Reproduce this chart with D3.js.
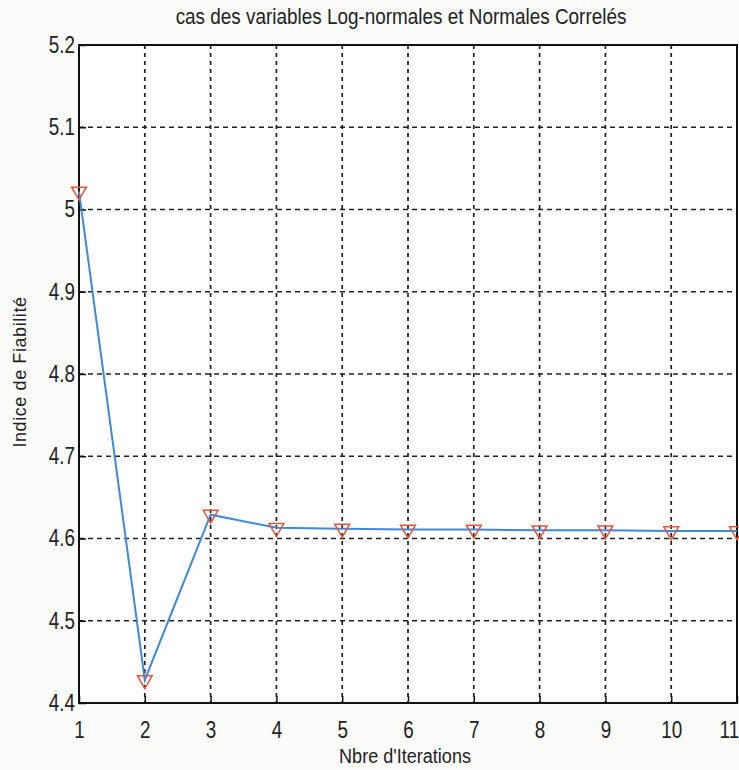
<!DOCTYPE html>
<html>
<head>
<meta charset="utf-8">
<script src="https://cdn.jsdelivr.net/npm/d3@7"></script>
<style>
body { margin: 0; background: #fbfbfa; }
svg text { font-family: "Liberation Sans", Arial, sans-serif; fill: #222; }
</style>
</head>
<body>
<svg id="vis" width="739" height="770"></svg>
<script>
var iterations = [1, 2, 3, 4, 5, 6, 7, 8, 9, 10, 11];
var beta = [5.022, 4.428, 4.629, 4.613, 4.612, 4.611, 4.611, 4.610, 4.610, 4.609, 4.609];
var yTicks = [4.4, 4.5, 4.6, 4.7, 4.8, 4.9, 5, 5.1, 5.2];
var titleText = "cas des variables Log-normales et Normales Correlés";
var xLabel = "Nbre d'Iterations";
var yLabel = "Indice de Fiabilité";

var svg = d3.select('#vis');
var margin = {top: 45, right: 2, bottom: 67, left: 79};
var width = 739, height = 770;

var xScale = d3.scaleLinear()
    .domain([1, 11])
    .range([margin.left, width - margin.right]);

var yScale = d3.scaleLinear()
    .domain([4.4, 5.2])
    .range([height - margin.bottom, margin.top]);

// fond du cadre
svg.append("rect")
    .attr("x", xScale(1))
    .attr("y", yScale(5.2))
    .attr("width", xScale(11) - xScale(1))
    .attr("height", yScale(4.4) - yScale(5.2))
    .style("fill", "white");

// grille pointillée
svg.selectAll("line.vgrid")
    .data(iterations.slice(1, -1))
    .enter()
    .append("line")
    .attr("class", "vgrid")
    .attr("x1", function(d){ return xScale(d); })
    .attr("x2", function(d){ return xScale(d); })
    .attr("y1", yScale(5.2))
    .attr("y2", yScale(4.4))
    .style("stroke", "#222")
    .style("stroke-width", "1.7")
    .style("stroke-dasharray", "4,4");

svg.selectAll("line.hgrid")
    .data(yTicks.slice(1, -1))
    .enter()
    .append("line")
    .attr("class", "hgrid")
    .attr("x1", xScale(1))
    .attr("x2", xScale(11))
    .attr("y1", function(d){ return yScale(d); })
    .attr("y2", function(d){ return yScale(d); })
    .style("stroke", "#222")
    .style("stroke-width", "1.7")
    .style("stroke-dasharray", "5,4");

// axes (ticks vers l'intérieur)
var xAxis = d3.axisBottom(xScale)
    .tickValues(iterations)
    .tickSize(-7)
    .tickPadding(20)
    .tickFormat(d3.format("d"));

var yAxis = d3.axisLeft(yScale)
    .tickValues(yTicks)
    .tickSize(-7)
    .tickPadding(5)
    .tickFormat(function(d){ return d3.format("")(+d.toFixed(1)); });

var gx = svg.append("g")
    .attr("transform", "translate(0," + yScale(4.4) + ")")
    .call(xAxis);
gx.selectAll("text")
    .style("font-size", "23px")
    .attr("y", 19)
    .attr("transform", "scale(0.82,1)");
// le dernier libellé est coupé au bord comme sur l'original
gx.selectAll(".tick:last-of-type text").attr("text-anchor", "end").attr("x", 2);

var gy = svg.append("g")
    .attr("transform", "translate(" + xScale(1) + ",0)")
    .call(yAxis);
gy.selectAll("text")
    .style("font-size", "23px")
    .attr("transform", "scale(0.82,1)");

svg.selectAll(".domain").remove();
svg.selectAll(".tick line").style("stroke", "#111").style("stroke-width", "1.5");

// cadre
svg.append("rect")
    .attr("x", xScale(1))
    .attr("y", yScale(5.2))
    .attr("width", xScale(11) - xScale(1))
    .attr("height", yScale(4.4) - yScale(5.2))
    .style("fill", "none")
    .style("stroke", "#111")
    .style("stroke-width", "2");

// courbe
var line = d3.line()
    .x(function(d, i){ return xScale(iterations[i]); })
    .y(function(d){ return yScale(d); });

svg.append("path")
    .datum(beta)
    .attr("d", line)
    .style("fill", "none")
    .style("stroke", "#4089d8")
    .style("stroke-width", "2");

// marqueurs triangles
var tri = d3.symbol().type(d3.symbolTriangle).size(95);
svg.selectAll("path.marker")
    .data(beta)
    .enter()
    .append("path")
    .attr("class", "marker")
    .attr("d", tri)
    .attr("transform", function(d, i){
        return "translate(" + xScale(iterations[i]) + "," + yScale(d) + ") rotate(180)";
    })
    .style("fill", "none")
    .style("stroke", "#e0573f")
    .style("stroke-width", "1.5");

// titres
svg.append("text")
    .attr("transform", "translate(401,24) scale(0.86,1)")
    .attr("text-anchor", "middle")
    .style("font-size", "22px")
    .text(titleText);

svg.append("text")
    .attr("transform", "translate(405,763) scale(0.86,1)")
    .attr("text-anchor", "middle")
    .style("font-size", "21px")
    .text(xLabel);

svg.append("text")
    .attr("transform", "translate(26,372) rotate(-90) scale(0.95,1)")
    .attr("text-anchor", "middle")
    .style("font-size", "19px")
    .style("letter-spacing", "0.6px")
    .text(yLabel);
</script>
</body>
</html>
